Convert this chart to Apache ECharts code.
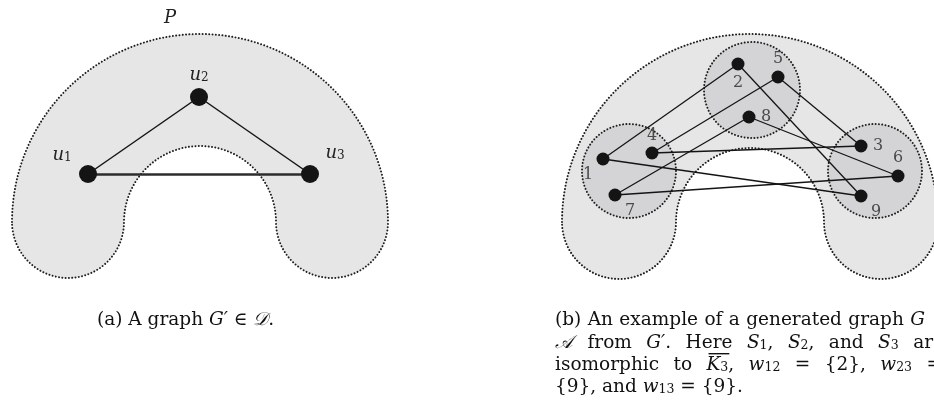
<!DOCTYPE html>
<html>
<head>
<meta charset="utf-8">
<script src="https://cdn.jsdelivr.net/npm/echarts@6/dist/echarts.min.js"></script>
<style>html,body{margin:0;padding:0;background:#fff}#c{width:934px;height:408px}</style>
</head>
<body>
<div id="c"></div>
<script>
// ---- data ----
const regionCX = [200, 750];
const regionCY = [222, 222];
const regionOuterR = [188, 188];
const regionInnerR = [76, 74];

const setCX = [629, 752, 875];
const setCY = [171, 90, 171];
const setR = [47, 48, 47];

const nodesAName = ['1', '2', '3'];
const nodesAX = [88, 199, 310];
const nodesAY = [174, 97, 174];
const edgesA = [[0, 1], [1, 2], [0, 2]];

const nodesBName = ['1', '2', '3', '4', '5', '6', '7', '8', '9'];
const nodesBX = [603, 738, 861, 652, 778, 898, 615, 749, 861];
const nodesBY = [159, 64, 146, 153, 77, 176, 195, 117, 196];
const edgesB = [[0, 1], [0, 8], [3, 4], [3, 2], [6, 7], [6, 5], [1, 8], [4, 2], [7, 5]];

const captionA = '(a) A graph {i|G′} ∈ {c|𝒟}.';
const captionB1 = ['(b)', 'An', 'example', 'of', 'a', 'generated', 'graph', '{i|G}'];
const captionB2 = ['{c|𝒜}', 'from', '{i|G′}.', 'Here', '{i|S}{s|1},', '{i|S}{s|2},', 'and', '{i|S}{s|3}', 'are'];
const captionB3 = ['isomorphic', 'to', '{o|K}{s|3},', '{i|w}{s|12}', '=', '{2},', '{i|w}{s|23}', '='];
const captionB4 = '{9}, and {i|w}{s|13} = {9}.';

// label offsets (styling)
const labelOffA = [[-26, -19], [0, -22], [25, -21]];
const labelOffB = [[-15, 16], [0, 19], [17, 0], [0, -17], [0, -18], [0, -18], [15, 16], [17, 0], [15, 16]];

const SERIF = '"DejaVu Serif", "Liberation Serif", serif';
const FS = 18.5, SFS = 12.5;
const DOT = { stroke: '#1e1e1e', lineWidth: 2, lineDash: [0.01, 3.3], lineCap: 'round' };

const chart = echarts.init(document.getElementById('c'), null, { renderer: 'canvas' });

function horseshoe(params, api) {
  const c = api.coord([api.value(0), api.value(1)]);
  const R = api.size([api.value(2), 0])[0];
  const r = api.size([api.value(3), 0])[0];
  const Rc = (R + r) / 2, w = (R - r) / 2;
  const pts = [];
  const N = 120;
  for (let i = 0; i <= N; i++) { const t = Math.PI + Math.PI * i / N; pts.push([c[0] + R * Math.cos(t), c[1] + R * Math.sin(t)]); }
  for (let i = 1; i <= N / 2; i++) { const t = Math.PI * i / (N / 2); pts.push([c[0] + Rc + w * Math.cos(t), c[1] + w * Math.sin(t)]); }
  for (let i = 1; i <= N; i++) { const t = 2 * Math.PI - Math.PI * i / N; pts.push([c[0] + r * Math.cos(t), c[1] + r * Math.sin(t)]); }
  for (let i = 1; i < N / 2; i++) { const t = Math.PI * i / (N / 2); pts.push([c[0] - Rc + w * Math.cos(t), c[1] + w * Math.sin(t)]); }
  return { type: 'polygon', shape: { points: pts }, style: Object.assign({ fill: '#e6e6e7' }, DOT) };
}
function setCircle(params, api) {
  const c = api.coord([api.value(0), api.value(1)]);
  const r = api.size([api.value(2), 0])[0];
  return { type: 'circle', shape: { cx: c[0], cy: c[1], r: r }, style: Object.assign({ fill: '#d4d4d6' }, DOT) };
}

const uRich = {
  u: { fontFamily: SERIF, fontStyle: 'italic', fontSize: 18, color: '#222' },
  s: { fontFamily: SERIF, fontSize: 12, color: '#222', verticalAlign: 'bottom', padding: [6, 0, 0, 0] }
};
const uRichB = {
  u: { fontFamily: SERIF, fontStyle: 'italic', fontSize: 15, color: '#555' },
  s: { fontFamily: SERIF, fontSize: 10, color: '#555', verticalAlign: 'bottom', padding: [5, 0, 0, 0] }
};

const capRich = {
  i: { fontFamily: SERIF, fontStyle: 'italic', fontSize: FS, color: '#111' },
  o: { fontFamily: SERIF, fontStyle: 'italic', fontSize: FS, color: '#111' },
  c: { fontFamily: SERIF, fontStyle: 'italic', fontSize: FS, color: '#111' },
  s: { fontFamily: SERIF, fontSize: SFS, color: '#111', verticalAlign: 'bottom', padding: [6, 0, 0, 0] }
};

// text measuring for justified caption lines
const mctx = document.createElement('canvas').getContext('2d');
function segs(str) {
  const out = []; const re = /\{(\w+)\|([^}]*)\}/g; let last = 0, m;
  while ((m = re.exec(str))) {
    if (m.index > last) out.push(['n', str.slice(last, m.index)]);
    out.push([m[1], m[2]]); last = re.lastIndex;
  }
  if (last < str.length) out.push(['n', str.slice(last)]);
  return out;
}
function segWidth(st, t) {
  const it = (st === 'i' || st === 'c' || st === 'o');
  const size = st === 's' ? SFS : FS;
  mctx.font = (it ? 'italic ' : '') + size + 'px ' + SERIF;
  return mctx.measureText(t).width;
}
function wordWidth(w) { return segs(w).reduce((a, s) => a + segWidth(s[0], s[1]), 0); }

function capText(x, y, txt) {
  return { type: 'text', x: x, y: y, style: { text: txt, rich: capRich, fontFamily: SERIF, fontSize: FS, fill: '#111', verticalAlign: 'middle', align: 'left' } };
}
function justified(words, x0, x1, y, out) {
  const ws = words.map(wordWidth);
  const total = ws.reduce((a, b) => a + b, 0);
  const gap = (x1 - x0 - total) / (words.length - 1);
  let x = x0;
  words.forEach((w, i) => {
    out.push(capText(x, y, w));
    if (w.indexOf('{o|') === 0) {
      const kw = segs(w).slice(0, 2).reduce((a, s) => a + segWidth(s[0], s[1]), 0);
      out.push({ type: 'rect', shape: { x: x + 2, y: y - 12, width: kw - 1, height: 1.4 }, style: { fill: '#111' } });
    }
    x += ws[i] + gap;
  });
}
function uText(x, y, sub, rich) {
  return { type: 'text', x: x, y: y, style: { text: '{u|u}{s|' + sub + '}', rich: rich, align: 'center', verticalAlign: 'middle' } };
}

const graphics = [
  { type: 'text', x: 170, y: 18, style: { text: 'P', fontFamily: SERIF, fontStyle: 'italic', fontSize: 18, fill: '#222', align: 'center', verticalAlign: 'middle' } },
  uText(701, 53, '2', uRichB),
  uText(607, 230, '1', uRichB),
  uText(897, 230, '3', uRichB),
  capText(97, 320, captionA),
  capText(555, 387, captionB4)
];
justified(captionB1, 555, 925, 320, graphics);
justified(captionB2, 555, 944, 343, graphics);
justified(captionB3, 555, 942, 365, graphics);

const option = {
  animation: false,
  grid: { left: 0, right: 0, top: 0, bottom: 0 },
  xAxis: { type: 'value', min: 0, max: 934, show: false },
  yAxis: { type: 'value', min: 0, max: 408, inverse: true, show: false },
  series: [
    { type: 'custom', coordinateSystem: 'cartesian2d', z: 1, silent: true, renderItem: horseshoe,
      data: regionCX.map((x, i) => [x, regionCY[i], regionOuterR[i], regionInnerR[i]]) },
    { type: 'custom', coordinateSystem: 'cartesian2d', z: 2, silent: true, renderItem: setCircle,
      data: setCX.map((x, i) => [x, setCY[i], setR[i]]) },
    { type: 'graph', coordinateSystem: 'cartesian2d', z: 3, symbol: 'circle', symbolSize: 18, silent: true,
      itemStyle: { color: '#141414' },
      lineStyle: { color: '#141414', width: 1.5, opacity: 1, curveness: 0 },
      label: { show: true, position: 'inside', formatter: p => '{u|u}{s|' + p.name + '}', rich: uRich },
      data: nodesAX.map((x, i) => ({ name: nodesAName[i], value: [x, nodesAY[i]], label: { offset: labelOffA[i] } })),
      links: edgesA.map(e => ({ source: e[0], target: e[1], lineStyle: (e[0] === 0 && e[1] === 2) ? { width: 2.6, color: '#2c2c2c' } : {} })) },
    { type: 'graph', coordinateSystem: 'cartesian2d', z: 3, symbol: 'circle', symbolSize: 13, silent: true,
      itemStyle: { color: '#141414' },
      lineStyle: { color: '#141414', width: 1.3, opacity: 1, curveness: 0 },
      label: { show: true, position: 'inside', fontFamily: SERIF, fontSize: 16, color: '#4a4a4a', formatter: '{b}' },
      data: nodesBX.map((x, i) => ({ name: nodesBName[i], value: [x, nodesBY[i]], label: { offset: labelOffB[i] } })),
      links: edgesB.map(e => ({ source: e[0], target: e[1] })) }
  ],
  graphic: graphics
};
chart.setOption(option);
</script>
</body>
</html>
